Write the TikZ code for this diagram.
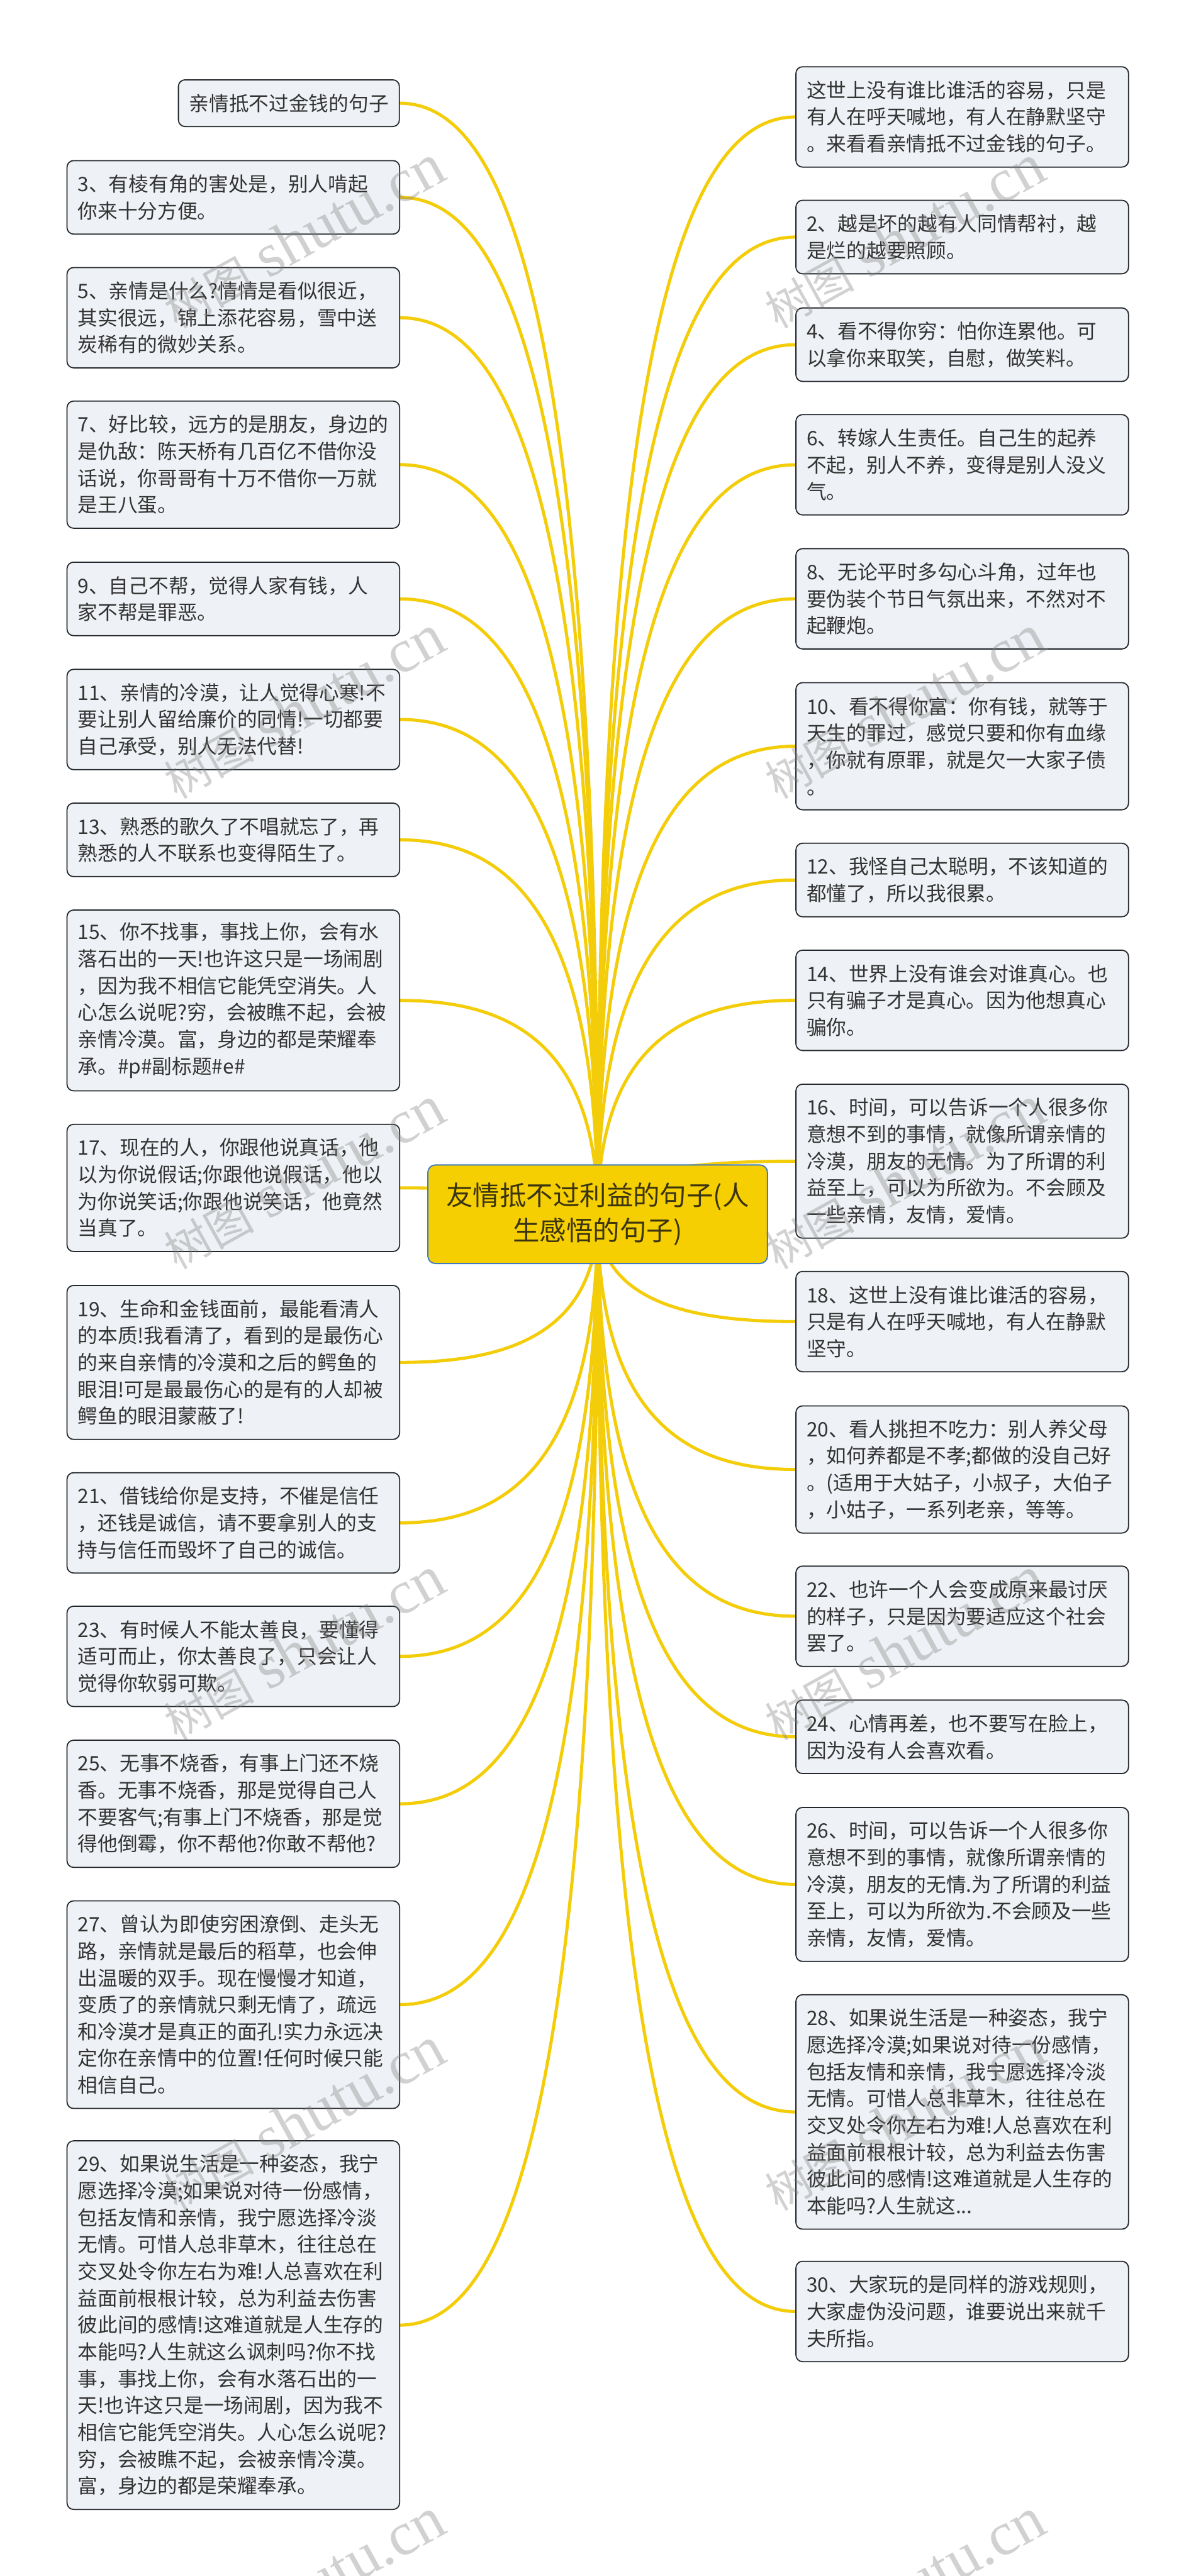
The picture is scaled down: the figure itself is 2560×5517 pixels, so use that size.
\documentclass[tikz,border=0pt]{standalone}
\usepackage{fontspec}
\setmainfont{Noto Sans CJK SC}
\newfontfamily\wmlatin{Liberation Serif}
\usetikzlibrary{backgrounds,calc}
\definecolor{leaffill}{HTML}{EEF1F5}
\definecolor{leafline}{HTML}{23282C}
\definecolor{leaftext}{HTML}{333333}
\definecolor{linkyellow}{HTML}{F4CD0A}
\definecolor{hubfill}{HTML}{F6CF02}
\definecolor{hubline}{HTML}{3F7CBF}
\definecolor{hubtext}{HTML}{3B3410}
\newcommand{\wmtext}{{\fontsize{48}{60}\selectfont 树图}\hspace{15pt}{\wmlatin\fontsize{66}{60}\selectfont shutu.cn}}
\tikzset{
  leafbox/.style={draw=leafline,fill=leaffill,text=leaftext,line width=1.2pt,rounded corners=7pt,
    rectangle,inner xsep=11.5pt,inner ysep=0pt,outer sep=0pt,
    font=\fontsize{21.35}{28.725}\selectfont,align=left},
  wide/.style={text width=333pt,minimum width=355.5pt},
  ln/.style={minimum height={(21.25+28.725*#1)*1pt}},
  lft/.style={anchor=north west},
  rgt/.style={anchor=north west},
  hubbox/.style={draw=hubline,fill=hubfill,text=hubtext,line width=1.3pt,rounded corners=8pt,
    rectangle,minimum width=363.5pt,minimum height=105.5pt,inner sep=0pt,outer sep=0pt,
    font=\fontsize{28.6}{38.3}\selectfont,align=center},
  linkline/.style={draw=linkyellow,line width=3.4pt},
  wmark/.style={text=gray,opacity=.36,rotate=29,anchor=east,inner sep=0pt}
}
\newcommand{\linkto}[2]{\draw[linkline] (#1.#2) .. controls ($(#1.#2)!.5!(hub.center|-#1.#2)$) and ($(hub.center)!.84!(hub.center|-#1.#2)$) .. (hub.center);}
\begin{document}
\begin{tikzpicture}[x=0.5pt,y=-0.5pt]
\useasboundingbox (0,0) rectangle (2560,5517);
% centre
\node[hubbox] (hub) at (1279.5,2600.5) {友情抵不过利益的句子(人\\生感悟的句子)};
% left column
\node[leafbox,ln=1,anchor=north east] (L1) at (855,171) {亲情抵不过金钱的句子};
\node[leafbox,wide,lft,ln=2] (L3) at (143.5,344) {3、有棱有角的害处是，别人啃起\\你来十分方便。};
\node[leafbox,wide,lft,ln=3] (L5) at (143.5,573) {5、亲情是什么?情情是看似很近，\\其实很远，锦上添花容易，雪中送\\炭稀有的微妙关系。};
\node[leafbox,wide,lft,ln=4] (L7) at (143.5,859) {7、好比较，远方的是朋友，身边的\\是仇敌：陈天桥有几百亿不借你没\\话说，你哥哥有十万不借你一万就\\是王八蛋。};
\node[leafbox,wide,lft,ln=2] (L9) at (143.5,1204) {9、自己不帮，觉得人家有钱，人\\家不帮是罪恶。};
\node[leafbox,wide,lft,ln=3] (L11) at (143.5,1433.5) {11、亲情的冷漠，让人觉得心寒!不\\要让别人留给廉价的同情!一切都要\\自己承受，别人无法代替!};
\node[leafbox,wide,lft,ln=2] (L13) at (143.5,1720) {13、熟悉的歌久了不唱就忘了，再\\熟悉的人不联系也变得陌生了。};
\node[leafbox,wide,lft,ln=6] (L15) at (143.5,1949) {15、你不找事，事找上你，会有水\\落石出的一天!也许这只是一场闹剧\\，因为我不相信它能凭空消失。人\\心怎么说呢?穷，会被瞧不起，会被\\亲情冷漠。富，身边的都是荣耀奉\\承。\#p\#副标题\#e\#};
\node[leafbox,wide,lft,ln=4] (L17) at (143.5,2408) {17、现在的人，你跟他说真话，他\\以为你说假话;你跟他说假话，他以\\为你说笑话;你跟他说笑话，他竟然\\当真了。};
\node[leafbox,wide,lft,ln=5] (L19) at (143.5,2753) {19、生命和金钱面前，最能看清人\\的本质!我看清了，看到的是最伤心\\的来自亲情的冷漠和之后的鳄鱼的\\眼泪!可是最最伤心的是有的人却被\\鳄鱼的眼泪蒙蔽了!};
\node[leafbox,wide,lft,ln=3] (L21) at (143.5,3154) {21、借钱给你是支持，不催是信任\\，还钱是诚信，请不要拿别人的支\\持与信任而毁坏了自己的诚信。};
\node[leafbox,wide,lft,ln=3] (L23) at (143.5,3440) {23、有时候人不能太善良，要懂得\\适可而止，你太善良了，只会让人\\觉得你软弱可欺。};
\node[leafbox,wide,lft,ln=4] (L25) at (143.5,3727) {25、无事不烧香，有事上门还不烧\\香。无事不烧香，那是觉得自己人\\不要客气;有事上门不烧香，那是觉\\得他倒霉，你不帮他?你敢不帮他?};
\node[leafbox,wide,lft,ln=7] (L27) at (143.5,4071) {27、曾认为即使穷困潦倒、走头无\\路，亲情就是最后的稻草，也会伸\\出温暖的双手。现在慢慢才知道，\\变质了的亲情就只剩无情了，疏远\\和冷漠才是真正的面孔!实力永远决\\定你在亲情中的位置!任何时候只能\\相信自己。};
\node[leafbox,wide,lft,ln=13] (L29) at (143.5,4585) {29、如果说生活是一种姿态，我宁\\愿选择冷漠;如果说对待一份感情，\\包括友情和亲情，我宁愿选择冷淡\\无情。可惜人总非草木，往往总在\\交叉处令你左右为难!人总喜欢在利\\益面前根根计较，总为利益去伤害\\彼此间的感情!这难道就是人生存的\\本能吗?人生就这么讽刺吗?你不找\\事，事找上你，会有水落石出的一\\天!也许这只是一场闹剧，因为我不\\相信它能凭空消失。人心怎么说呢?\\穷，会被瞧不起，会被亲情冷漠。\\富，身边的都是荣耀奉承。};
% right column
\node[leafbox,wide,rgt,ln=3] (R1) at (1704,143) {这世上没有谁比谁活的容易，只是\\有人在呼天喊地，有人在静默坚守\\。来看看亲情抵不过金钱的句子。};
\node[leafbox,wide,rgt,ln=2] (R2) at (1704,429) {2、越是坏的越有人同情帮衬，越\\是烂的越要照顾。};
\node[leafbox,wide,rgt,ln=2] (R4) at (1704,659.5) {4、看不得你穷：怕你连累他。可\\以拿你来取笑，自慰，做笑料。};
\node[leafbox,wide,rgt,ln=3] (R6) at (1704,888) {6、转嫁人生责任。自己生的起养\\不起，别人不养，变得是别人没义\\气。};
\node[leafbox,wide,rgt,ln=3] (R8) at (1704,1175) {8、无论平时多勾心斗角，过年也\\要伪装个节日气氛出来，不然对不\\起鞭炮。};
\node[leafbox,wide,rgt,ln=4] (R10) at (1704,1462) {10、看不得你富：你有钱，就等于\\天生的罪过，感觉只要和你有血缘\\，你就有原罪，就是欠一大家子债\\。};
\node[leafbox,wide,rgt,ln=2] (R12) at (1704,1806) {12、我怪自己太聪明，不该知道的\\都懂了，所以我很累。};
\node[leafbox,wide,rgt,ln=3] (R14) at (1704,2035) {14、世界上没有谁会对谁真心。也\\只有骗子才是真心。因为他想真心\\骗你。};
\node[leafbox,wide,rgt,ln=5] (R16) at (1704,2322) {16、时间，可以告诉一个人很多你\\意想不到的事情，就像所谓亲情的\\冷漠，朋友的无情。为了所谓的利\\益至上，可以为所欲为。不会顾及\\一些亲情，友情，爱情。};
\node[leafbox,wide,rgt,ln=3] (R18) at (1704,2723) {18、这世上没有谁比谁活的容易，\\只是有人在呼天喊地，有人在静默\\坚守。};
\node[leafbox,wide,rgt,ln=4] (R20) at (1704,3011) {20、看人挑担不吃力：别人养父母\\，如何养都是不孝;都做的没自己好\\。(适用于大姑子，小叔子，大伯子\\，小姑子，一系列老亲，等等。};
\node[leafbox,wide,rgt,ln=3] (R22) at (1704,3354) {22、也许一个人会变成原来最讨厌\\的样子，只是因为要适应这个社会\\罢了。};
\node[leafbox,wide,rgt,ln=2] (R24) at (1704,3641) {24、心情再差，也不要写在脸上，\\因为没有人会喜欢看。};
\node[leafbox,wide,rgt,ln=5] (R26) at (1704,3871) {26、时间，可以告诉一个人很多你\\意想不到的事情，就像所谓亲情的\\冷漠，朋友的无情.为了所谓的利益\\至上，可以为所欲为.不会顾及一些\\亲情，友情，爱情。};
\node[leafbox,wide,rgt,ln=8] (R28) at (1704,4272) {28、如果说生活是一种姿态，我宁\\愿选择冷漠;如果说对待一份感情，\\包括友情和亲情，我宁愿选择冷淡\\无情。可惜人总非草木，往往总在\\交叉处令你左右为难!人总喜欢在利\\益面前根根计较，总为利益去伤害\\彼此间的感情!这难道就是人生存的\\本能吗?人生就这...};
\node[leafbox,wide,rgt,ln=3] (R30) at (1704,4843) {30、大家玩的是同样的游戏规则，\\大家虚伪没问题，谁要说出来就千\\夫所指。};
% connectors behind the boxes
\begin{pgfonlayer}{background}
\foreach \n in {L1,L3,L5,L7,L9,L11,L13,L15,L17,L19,L21,L23,L25,L27,L29}{\linkto{\n}{east}}
\foreach \n in {R1,R2,R4,R6,R8,R10,R12,R14,R16,R18,R20,R22,R24,R26,R28,R30}{\linkto{\n}{west}}
\end{pgfonlayer}
% watermark rows
\foreach \k in {0,...,5}{
  \node[wmark] (wa\k) at (942,{345+1008*\k}) {\wmtext};
  \node[wmark] (wb\k) at (2227,{345+1008*\k}) {\wmtext};
}
\end{tikzpicture}
\end{document}
